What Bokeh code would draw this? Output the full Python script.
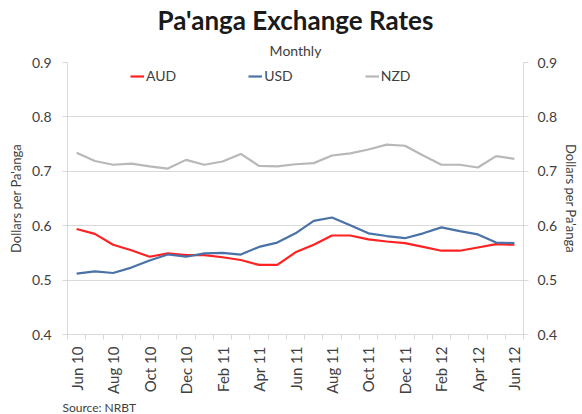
import math
from bokeh.plotting import figure
from bokeh.models import Range1d, LinearAxis, FixedTicker, Legend, LegendItem, Title
from bokeh.embed import file_html
from bokeh.resources import INLINE

months = ["Jun 10", "Jul 10", "Aug 10", "Sep 10", "Oct 10", "Nov 10", "Dec 10",
          "Jan 11", "Feb 11", "Mar 11", "Apr 11", "May 11", "Jun 11", "Jul 11",
          "Aug 11", "Sep 11", "Oct 11", "Nov 11", "Dec 11", "Jan 12", "Feb 12",
          "Mar 12", "Apr 12", "May 12", "Jun 12"]
aud = [0.594, 0.585, 0.565, 0.555, 0.543, 0.549, 0.546, 0.546, 0.542, 0.537, 0.528, 0.528,
       0.551, 0.565, 0.582, 0.582, 0.575, 0.571, 0.568, 0.561, 0.554, 0.554, 0.560, 0.566, 0.565]
usd = [0.512, 0.516, 0.513, 0.523, 0.536, 0.547, 0.543, 0.549, 0.550, 0.547, 0.561, 0.569,
       0.586, 0.609, 0.615, 0.601, 0.586, 0.581, 0.577, 0.586, 0.597, 0.590, 0.584, 0.569, 0.568]
nzd = [0.734, 0.719, 0.712, 0.714, 0.709, 0.705, 0.721, 0.712, 0.718, 0.732, 0.710, 0.709,
       0.713, 0.715, 0.729, 0.733, 0.740, 0.749, 0.747, 0.729, 0.712, 0.712, 0.707, 0.728, 0.723]
y_ticks = [0.4, 0.5, 0.6, 0.7, 0.8, 0.9]

FONT = "Lato"
TXT = "#404040"
GRID = "#d9d9d9"

xs = list(range(len(months)))

p = figure(frame_width=456, frame_height=272, x_range=Range1d(-0.5, len(months) - 0.5),
           y_range=Range1d(0.4, 0.9), output_backend="svg", toolbar_location=None,
           title_location=None, min_border_left=67, min_border_right=57,
           min_border_top=62, min_border_bottom=78)
p.outline_line_color = None
p.background_fill_color = "white"
p.border_fill_color = "white"

r_aud = p.line(xs, aud, line_color="#ff2222", line_width=2.2)
r_usd = p.line(xs, usd, line_color="#4a72a8", line_width=2.2)
r_nzd = p.line(xs, nzd, line_color="#b8b8b8", line_width=2.2)

# x axis
xa = p.xaxis[0]
xa.ticker = FixedTicker(ticks=list(range(0, len(months), 2)),
                        minor_ticks=[i - 0.5 for i in range(len(months) + 1)])
xa.major_label_overrides = {i: months[i] for i in range(0, len(months), 2)}
xa.major_label_orientation = math.pi / 2
xa.major_tick_line_color = None
xa.minor_tick_line_color = GRID
xa.minor_tick_in = 0
xa.minor_tick_out = 5
xa.axis_line_color = GRID
xa.major_label_text_font = FONT
xa.major_label_text_font_size = "15px"
xa.major_label_text_color = TXT
xa.major_label_standoff = 6
p.xgrid.visible = False

# y axes
def style_y(ax):
    ax.ticker = FixedTicker(ticks=y_ticks)
    ax.major_label_overrides = {t: f"{t:.1f}" for t in y_ticks}
    ax.minor_tick_line_color = None
    ax.major_tick_line_color = GRID
    ax.major_tick_in = 0
    ax.major_tick_out = 5
    ax.axis_line_color = GRID
    ax.major_label_text_font = FONT
    ax.major_label_text_font_size = "14px"
    ax.major_label_text_color = TXT
    ax.axis_label = "Dollars per Pa'anga"
    ax.axis_label_text_font = FONT
    ax.axis_label_text_font_size = "13px"
    ax.axis_label_text_font_style = "normal"
    ax.axis_label_text_color = TXT

ya = p.yaxis[0]
style_y(ya)
ya.major_label_standoff = 11
ya.axis_label_standoff = 5
yr = LinearAxis()
style_y(yr)
yr.major_label_standoff = 9
yr.axis_label_standoff = 3
p.add_layout(yr, "right")

p.ygrid.ticker = FixedTicker(ticks=y_ticks)
p.ygrid.grid_line_color = GRID
p.ygrid.grid_line_width = 1

legend = Legend(items=[LegendItem(label="AUD", renderers=[r_aud]),
                       LegendItem(label="USD", renderers=[r_usd]),
                       LegendItem(label="NZD", renderers=[r_nzd])],
                orientation="horizontal", location=(63, 250), spacing=72,
                padding=0, margin=0, glyph_width=14, glyph_height=16,
                label_height=16, label_standoff=2, border_line_color=None,
                background_fill_alpha=0, label_text_font=FONT,
                label_text_font_size="14px", label_text_color=TXT)
p.add_layout(legend, "center")

p.add_layout(Title(text="Monthly", align="center", text_font=FONT,
                   text_font_size="14px", text_font_style="normal",
                   text_color=TXT, standoff=7), "above")
p.add_layout(Title(text="Pa'anga Exchange Rates", align="center", text_font=FONT,
                   text_font_size="26px", text_font_style="bold",
                   text_color="#1a1a1a", standoff=1), "above")
p.add_layout(Title(text="Source: NRBT", align="left", offset=-5, text_font=FONT,
                   text_font_size="12px", text_font_style="normal",
                   text_color=TXT, standoff=0), "below")

open("out.html", "w").write(file_html(p, INLINE))
